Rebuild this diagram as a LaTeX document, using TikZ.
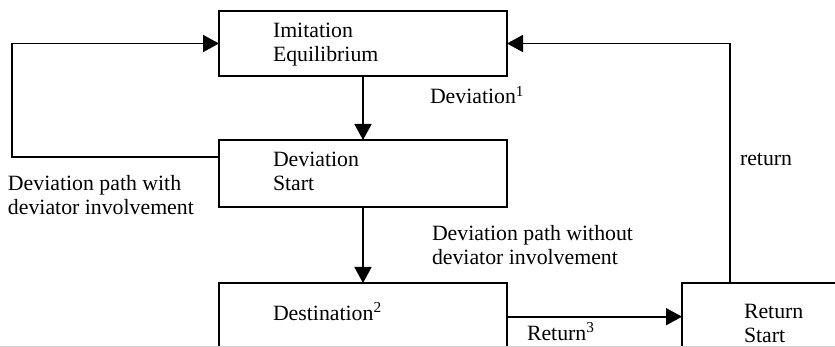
\documentclass[tikz,border=0pt]{standalone}
\usepackage{fontspec}
\setmainfont{Liberation Serif}
\usetikzlibrary{arrows.meta}
\tikzset{
  box/.style={draw, line width=1.8pt, outer sep=0pt, inner sep=0pt, anchor=north west},
  lbl/.style={font=\fontsize{21.8pt}{24pt}\selectfont, inner sep=0pt, outer sep=0pt, align=left, anchor=base west},
  conn/.style={line width=1.8pt},
  arr/.style={conn, -{Triangle[length=16pt,width=17pt]}}
}
\begin{document}
\begin{tikzpicture}[x=1pt,y=1pt]
\useasboundingbox (0,0) rectangle (835,-347);
\clip (0,0) rectangle (835,-347);
% boxes
\node[box, minimum width=288pt, minimum height=65pt] (imit) at (219,-11) {};
\node[box, minimum width=288pt, minimum height=67pt] (devs) at (219,-140) {};
\node[box, minimum width=288pt, minimum height=90pt] (dest) at (219,-283) {};
\node[box, minimum width=240pt, minimum height=90pt] (rets) at (682,-283) {};
% box texts (anchor = baseline of last line)
\node[lbl] (timit) at (273,-62) {Imitation\\Equilibrium};
\node[lbl] (tdevs) at (273,-191) {Deviation\\Start};
\node[lbl] (tdest) at (273,-320.5) {Destination\textsuperscript{2}};
\node[lbl] (trets) at (744,-342.5) {Return\\Start};
% connectors
\draw[arr] (imit) -- (devs);
\draw[arr] (devs) -- (dest);
\coordinate (lc) at (12,-156.7);
\draw[arr] ([yshift=-16.7pt]devs.north west) -- (lc) |- (imit.west);
\draw[arr] ([yshift=-33.7pt]dest.north east) -- ([yshift=-33.7pt]rets.north west);
\draw[arr] ([xshift=48pt]rets.north west) |- (imit.east);
% connector labels
\node[lbl] (ldev) at (430,-104) {Deviation\textsuperscript{1}};
\node[lbl] (lret) at (740,-166) {return};
\node[lbl] (lwith) at (8,-215) {Deviation path with\\deviator involvement};
\node[lbl] (lwithout) at (432,-265) {Deviation path without\\deviator involvement};
\node[lbl] (lret3) at (527,-340) {Return\textsuperscript{3}};
\draw[gray!35, line width=1pt] (0,-346) -- (835,-346);
\end{tikzpicture}
\end{document}
